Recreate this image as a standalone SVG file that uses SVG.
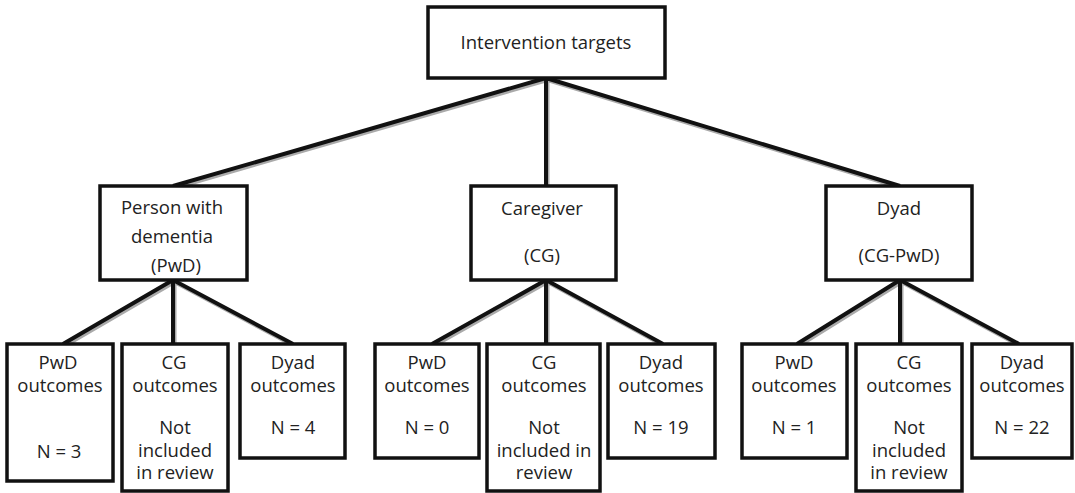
<svg xmlns="http://www.w3.org/2000/svg" width="1075" height="493" viewBox="0 0 1075 493">
<style>
.box{fill:#fff;stroke:#111;stroke-width:3.5}
.t{font-family:"Open Sans","Liberation Sans",sans-serif;font-size:18.5px;fill:#222;text-anchor:middle}
.ln{stroke:#111;stroke-width:4;fill:none}
.sh{stroke:#aaa;stroke-width:4;fill:none}
</style>
<rect width="1075" height="493" fill="#fff"/>
<g id="connectors">
<g class="sh" transform="translate(1.5,2)">
<path d="M546 78 L173 186 M546 78 L546 186 M546 78 L900 186"/>
<path d="M173 280 L63 344 M173 280 L173 344 M173 280 L293 344"/>
<path d="M546 280 L432 344 M546 280 L546 344 M546 280 L663 344"/>
<path d="M900 280 L797 344 M900 280 L900 344 M900 280 L1019 344"/>
</g>
<g class="ln">
<path d="M546 78 L173 186 M546 78 L546 186 M546 78 L900 186"/>
<path d="M173 280 L63 344 M173 280 L173 344 M173 280 L293 344"/>
<path d="M546 280 L432 344 M546 280 L546 344 M546 280 L663 344"/>
<path d="M900 280 L797 344 M900 280 L900 344 M900 280 L1019 344"/>
</g>
</g>
<g id="top"><rect class="box" x="428" y="7" width="237" height="71"/><text class="t" x="546" y="49">Intervention targets</text></g>
<g id="pwd"><rect class="box" x="100" y="186" width="147" height="94"/><text class="t" x="172" y="214">Person with</text><text class="t" x="172" y="243">dementia</text><text class="t" x="176" y="272">(PwD)</text></g>
<g id="cg"><rect class="box" x="471" y="186" width="145" height="94"/><text class="t" x="542" y="215">Caregiver</text><text class="t" x="542" y="262">(CG)</text></g>
<g id="dyad"><rect class="box" x="826" y="186" width="146" height="94"/><text class="t" x="899" y="215">Dyad</text><text class="t" x="899" y="262">(CG-PwD)</text></g>

<g id="pwd-pwd"><rect class="box" x="7" y="344" width="106" height="137"/><text class="t" x="58" y="369">PwD</text><text class="t" x="60" y="392">outcomes</text><text class="t" x="59" y="458">N = 3</text></g>
<g id="pwd-cg"><rect class="box" x="122" y="344" width="106" height="147"/><text class="t" x="174" y="369">CG</text><text class="t" x="175" y="392">outcomes</text><text class="t" x="175" y="434">Not</text><text class="t" x="175" y="457">included</text><text class="t" x="175" y="479">in review</text></g>
<g id="pwd-dyad"><rect class="box" x="240" y="344" width="105" height="114"/><text class="t" x="293" y="369">Dyad</text><text class="t" x="293" y="392">outcomes</text><text class="t" x="293" y="434">N = 4</text></g>

<g id="cg-pwd"><rect class="box" x="375" y="344" width="104" height="114"/><text class="t" x="427" y="369">PwD</text><text class="t" x="427" y="392">outcomes</text><text class="t" x="427" y="434">N = 0</text></g>
<g id="cg-cg"><rect class="box" x="487" y="344" width="113" height="147"/><text class="t" x="544" y="369">CG</text><text class="t" x="544" y="392">outcomes</text><text class="t" x="544" y="434">Not</text><text class="t" x="544" y="457">included in</text><text class="t" x="544" y="479">review</text></g>
<g id="cg-dyad"><rect class="box" x="608" y="344" width="107" height="114"/><text class="t" x="661" y="369">Dyad</text><text class="t" x="661" y="392">outcomes</text><text class="t" x="661" y="434">N = 19</text></g>

<g id="dyad-pwd"><rect class="box" x="742" y="344" width="105" height="114"/><text class="t" x="794" y="369">PwD</text><text class="t" x="794" y="392">outcomes</text><text class="t" x="794" y="434">N = 1</text></g>
<g id="dyad-cg"><rect class="box" x="856" y="344" width="106" height="147"/><text class="t" x="909" y="369">CG</text><text class="t" x="909" y="392">outcomes</text><text class="t" x="909" y="434">Not</text><text class="t" x="909" y="457">included</text><text class="t" x="909" y="479">in review</text></g>
<g id="dyad-dyad"><rect class="box" x="972" y="344" width="100" height="114"/><text class="t" x="1022" y="369">Dyad</text><text class="t" x="1022" y="392">outcomes</text><text class="t" x="1022" y="434">N = 22</text></g>
</svg>
